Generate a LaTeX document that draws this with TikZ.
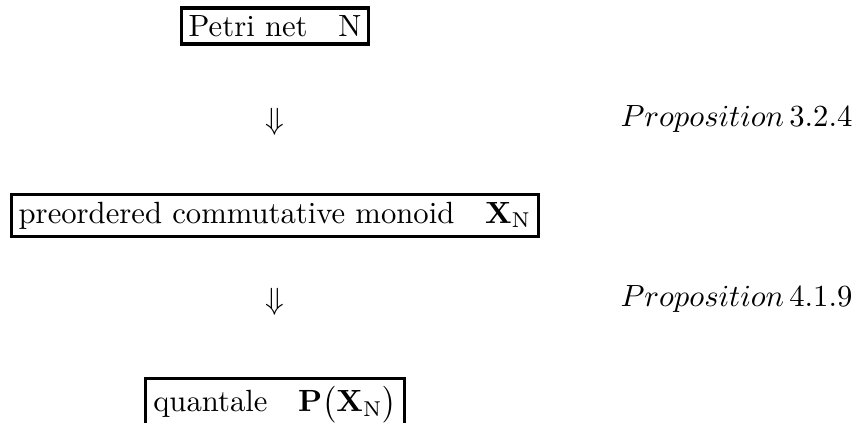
\documentclass[tikz,border=0pt]{standalone}

\begin{document}
\begin{tikzpicture}[
  x=0.326pt, y=-0.326pt,        % <-- one unit is one pixel of the page
  box/.style={draw=black, line width=1pt, inner sep=2.4pt},
  darrow/.style={inner sep=0pt},
  prop/.style={anchor=base east, inner sep=0pt}
]
\useasboundingbox (0,0) rectangle (858,423);
\clip (0,0) rectangle (858,423);

% ===================== positions =====================
\coordinate (cnet)  at (275,26);
\coordinate (carr1) at (275,122);
\coordinate (cmon)  at (275,215.5);
\coordinate (carr2) at (275,302);
\coordinate (cquan) at (275,377);

\coordinate (cprop1) at (853,127);
\coordinate (cprop2) at (853,307);

% ===================== boxes =====================
\node[box] (net) at (cnet) {Petri net\quad N};
\node[box] (mon) at (cmon) {preordered commutative monoid\quad $\mathbf{X}_{\mathrm{N}}$};
\node[box, anchor=north] (quan) at (cquan) {quantale\quad $\mathbf{P}\bigl(\mathbf{X}_{\mathrm{N}}\bigr)$};  % bottom edge runs off the page

% ===================== arrows =====================
\node[darrow] (arr1) at (carr1) {$\Downarrow$};
\node[darrow] (arr2) at (carr2) {$\Downarrow$};

% ===================== labels =====================
\node[prop] (prop1) at (cprop1) {$Proposition\,3.2.4$};
\node[prop] (prop2) at (cprop2) {$Proposition\,4.1.9$};

\end{tikzpicture}
\end{document}
